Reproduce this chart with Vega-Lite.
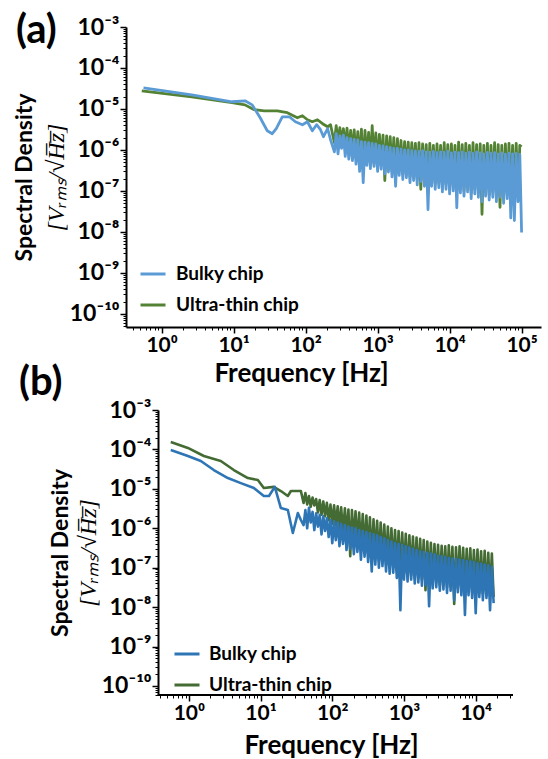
{
  "$schema": "https://vega.github.io/schema/vega-lite/v6.json",
  "background": "white",
  "padding": {"left": 13, "top": 11, "right": 5, "bottom": 0},
  "config": {
    "view": {"stroke": null},
    "axis": {"grid": false, "labelFont": "Lato", "titleFont": "Lato", "labelColor": "black", "titleColor": "black", "tickColor": "black", "domainColor": "black"},
    "line": {"strokeJoin": "round", "strokeCap": "butt"}
  },
  "columns": 1,
  "spacing": -23,
  "resolve": {"scale": {"color": "independent"}, "legend": {"color": "independent"}},
  "datasets": {
    "aBulky": [
      {"f":0.56,"v":3.28e-5},{"f":2.62,"v":2.21e-5},{"f":9.5,"v":1.5e-5},{"f":14.4,"v":1.58e-5},{"f":18.1,"v":1.26e-5},{"f":23.4,"v":6.1e-6},{"f":29.3,"v":2.95e-6},{"f":34.4,"v":2.49e-6},{"f":39.1,"v":3.3e-6},{"f":47.4,"v":6.45e-6},{"f":59.4,"v":6.45e-6},{"f":72.1,"v":4.89e-6},{"f":90.2,"v":4.13e-6},{"f":106,"v":4.89e-6},{"f":124,"v":2.95e-6},{"f":142,"v":4.13e-6},{"f":161,"v":3.12e-6},{"f":177,"v":2.11e-6},{"f":202,"v":3.3e-6},{"f":222,"v":1.78e-6},
      {"f":251,"v":9.0e-7},{"f":266,"v":2.5e-6},{"f":282,"v":8.0e-7},{"f":299,"v":2.2e-6},{"f":316,"v":1.1e-6},{"f":335,"v":2.3e-6},{"f":355,"v":7.0e-7},{"f":376,"v":2.0e-6},{"f":398,"v":6.0e-7},{"f":422,"v":1.9e-6},
      {"f":447,"v":5.5e-7},{"f":473,"v":1.8e-6},{"f":501,"v":4.5e-7},{"f":531,"v":1.75e-6},{"f":562,"v":3.0e-7},{"f":596,"v":1.6e-6},{"f":631,"v":1.6e-7},{"f":668,"v":1.55e-6},{"f":708,"v":4.2e-7},{"f":750,"v":1.5e-6},
      {"f":794,"v":3.5e-7},{"f":841,"v":1.45e-6},{"f":891,"v":4.0e-7},{"f":944,"v":1.4e-6},{"f":1000,"v":3.0e-7},{"f":1059,"v":1.3e-6},{"f":1122,"v":3.4e-7},{"f":1189,"v":1.25e-6},{"f":1259,"v":2.6e-7},{"f":1334,"v":1.2e-6},
      {"f":1413,"v":2.9e-7},{"f":1496,"v":1.15e-6},{"f":1585,"v":2.2e-7},{"f":1679,"v":1.1e-6},{"f":1778,"v":1.3e-7},{"f":1884,"v":1.1e-6},{"f":1995,"v":2.4e-7},{"f":2113,"v":1.05e-6},{"f":2239,"v":1.9e-7},{"f":2371,"v":1.0e-6},
      {"f":2512,"v":2.1e-7},{"f":2661,"v":1.0e-6},{"f":2818,"v":1.6e-7},{"f":2985,"v":9.6e-7},{"f":3162,"v":1.8e-7},{"f":3350,"v":9.5e-7},{"f":3548,"v":1.4e-7},{"f":3758,"v":9.2e-7},{"f":3981,"v":1.7e-7},{"f":4217,"v":9.6e-7},
      {"f":4467,"v":1.3e-7},{"f":4732,"v":9.0e-7},{"f":5012,"v":3.5e-8},{"f":5309,"v":8.8e-7},{"f":5623,"v":1.3e-7},{"f":5957,"v":9.2e-7},{"f":6310,"v":1.1e-7},{"f":6683,"v":8.6e-7},{"f":7079,"v":1.2e-7},{"f":7499,"v":9.0e-7},
      {"f":7943,"v":9.5e-8},{"f":8414,"v":8.8e-7},{"f":8913,"v":1.1e-7},{"f":9441,"v":9.3e-7},{"f":10000,"v":8.5e-8},{"f":10593,"v":8.5e-7},{"f":11220,"v":1.0e-7},{"f":11885,"v":8.8e-7},{"f":12589,"v":3.9e-8},{"f":13335,"v":8.6e-7},
      {"f":14125,"v":9.0e-8},{"f":14962,"v":9.0e-7},{"f":15849,"v":7.5e-8},{"f":16788,"v":8.4e-7},{"f":17783,"v":9.5e-8},{"f":18836,"v":8.8e-7},{"f":19953,"v":6.5e-8},{"f":21135,"v":8.3e-7},{"f":22387,"v":8.5e-8},{"f":23714,"v":9.0e-7},
      {"f":25119,"v":7.0e-8},{"f":26607,"v":8.5e-7},{"f":28184,"v":5.5e-8},{"f":29854,"v":8.0e-7},{"f":31623,"v":7.5e-8},{"f":33497,"v":8.7e-7},{"f":35481,"v":6.0e-8},{"f":37584,"v":8.2e-7},{"f":39811,"v":7.0e-8},{"f":42170,"v":8.6e-7},
      {"f":44668,"v":5.5e-8},{"f":47315,"v":8.0e-7},{"f":50119,"v":7.0e-8},{"f":53088,"v":8.5e-7},{"f":56234,"v":5.0e-8},{"f":59566,"v":7.9e-7},{"f":63096,"v":6.5e-8},{"f":66834,"v":8.4e-7},{"f":70795,"v":2.2e-8},{"f":74989,"v":8.0e-7},
      {"f":79433,"v":1.9e-8},{"f":84140,"v":8.3e-7},{"f":89125,"v":5.5e-8},{"f":94406,"v":7.8e-7},{"f":100000,"v":9.7e-9}
    ],
    "aThin": [
      {"f":0.53,"v":2.77e-5},{"f":2.62,"v":1.98e-5},{"f":9.5,"v":1.42e-5},{"f":14.4,"v":1.26e-5},{"f":19.3,"v":9.6e-6},{"f":26.6,"v":9.0e-6},{"f":40.4,"v":9.0e-6},{"f":55.7,"v":8.1e-6},{"f":76.8,"v":6.1e-6},{"f":90.2,"v":6.84e-6},{"f":106,"v":5.46e-6},{"f":124,"v":4.89e-6},{"f":146,"v":5.46e-6},{"f":172,"v":4.37e-6},{"f":202,"v":3.69e-6},{"f":222,"v":4.13e-6},
      {"f":251,"v":1.5e-6},{"f":266,"v":3.9e-6},{"f":282,"v":1.6e-6},{"f":299,"v":3.5e-6},{"f":316,"v":1.5e-6},{"f":335,"v":3.3e-6},{"f":355,"v":1.1e-6},{"f":376,"v":3.4e-6},{"f":398,"v":9.0e-7},{"f":422,"v":3.0e-6},
      {"f":447,"v":8.0e-7},{"f":473,"v":3.1e-6},{"f":501,"v":6.5e-7},{"f":531,"v":2.8e-6},{"f":562,"v":5.0e-7},{"f":596,"v":3.2e-6},{"f":631,"v":3.0e-7},{"f":668,"v":3.0e-6},{"f":708,"v":5.5e-7},{"f":750,"v":2.7e-6},
      {"f":794,"v":4.5e-7},{"f":841,"v":3.9e-6},{"f":891,"v":5.0e-7},{"f":944,"v":2.6e-6},{"f":1000,"v":4.0e-7},{"f":1059,"v":2.4e-6},{"f":1122,"v":4.5e-7},{"f":1189,"v":2.3e-6},{"f":1259,"v":1.8e-7},{"f":1334,"v":2.2e-6},
      {"f":1413,"v":3.8e-7},{"f":1496,"v":2.1e-6},{"f":1585,"v":3.0e-7},{"f":1679,"v":2.0e-6},{"f":1778,"v":2.2e-7},{"f":1884,"v":1.9e-6},{"f":1995,"v":3.2e-7},{"f":2113,"v":1.7e-6},{"f":2239,"v":2.6e-7},{"f":2371,"v":1.6e-6},
      {"f":2512,"v":2.8e-7},{"f":2661,"v":1.55e-6},{"f":2818,"v":2.2e-7},{"f":2985,"v":1.5e-6},{"f":3162,"v":2.5e-7},{"f":3350,"v":1.45e-6},{"f":3548,"v":1.9e-7},{"f":3758,"v":1.5e-6},{"f":3981,"v":1.1e-7},{"f":4217,"v":1.4e-6},
      {"f":4467,"v":1.8e-7},{"f":4732,"v":1.35e-6},{"f":5012,"v":9.0e-8},{"f":5309,"v":1.45e-6},{"f":5623,"v":1.8e-7},{"f":5957,"v":1.3e-6},{"f":6310,"v":1.5e-7},{"f":6683,"v":1.4e-6},{"f":7079,"v":1.6e-7},{"f":7499,"v":1.3e-6},
      {"f":7943,"v":1.3e-7},{"f":8414,"v":1.5e-6},{"f":8913,"v":1.5e-7},{"f":9441,"v":1.35e-6},{"f":10000,"v":1.2e-7},{"f":10593,"v":1.4e-6},{"f":11220,"v":1.4e-7},{"f":11885,"v":1.3e-6},{"f":12589,"v":1.0e-7},{"f":13335,"v":1.55e-6},
      {"f":14125,"v":1.2e-7},{"f":14962,"v":1.35e-6},{"f":15849,"v":1.0e-7},{"f":16788,"v":1.45e-6},{"f":17783,"v":1.3e-7},{"f":18836,"v":1.3e-6},{"f":19953,"v":9.0e-8},{"f":21135,"v":1.5e-6},{"f":22387,"v":1.1e-7},{"f":23714,"v":1.35e-6},
      {"f":25119,"v":9.5e-8},{"f":26607,"v":1.4e-6},{"f":28184,"v":2.7e-8},{"f":29854,"v":1.3e-6},{"f":31623,"v":1.0e-7},{"f":33497,"v":1.45e-6},{"f":35481,"v":8.0e-8},{"f":37584,"v":1.3e-6},{"f":39811,"v":9.5e-8},{"f":42170,"v":1.5e-6},
      {"f":44668,"v":7.5e-8},{"f":47315,"v":1.35e-6},{"f":50119,"v":4.0e-8},{"f":53088,"v":1.3e-6},{"f":56234,"v":7.0e-8},{"f":59566,"v":1.4e-6},{"f":63096,"v":8.5e-8},{"f":66834,"v":1.45e-6},{"f":70795,"v":6.0e-8},{"f":74989,"v":1.3e-6},
      {"f":79433,"v":7.0e-8},{"f":84140,"v":1.45e-6},{"f":89125,"v":7.5e-8},{"f":94406,"v":1.3e-6},{"f":100000,"v":1.2e-6}
    ],
    "bBulky": [
      {"f":0.56,"v":9.67e-5},{"f":0.97,"v":6.8e-5},{"f":1.47,"v":5.08e-5},{"f":2.23,"v":3.0e-5},{"f":3.5,"v":1.88e-5},{"f":5.31,"v":1.4e-5},{"f":8.07,"v":1.05e-5},{"f":11.1,"v":6.6e-6},{"f":13.1,"v":6.6e-6},{"f":15.8,"v":1.12e-5},{"f":19.2,"v":3.26e-6},{"f":24.0,"v":2.9e-6},{"f":28.2,"v":7.6e-7},{"f":33.1,"v":2.43e-6},{"f":36.5,"v":1.62e-6},
      {"f":39.8,"v":1.2e-6},{"f":42.2,"v":2.9e-6},{"f":44.7,"v":1.0e-6},{"f":47.3,"v":3.3e-6},{"f":50.1,"v":1.4e-6},{"f":53.1,"v":2.6e-6},{"f":56.2,"v":9.0e-7},{"f":59.6,"v":2.4e-6},{"f":63.1,"v":1.1e-6},{"f":66.8,"v":2.2e-6},
      {"f":70.8,"v":7.0e-7},{"f":75.0,"v":2.0e-6},{"f":79.4,"v":8.5e-7},{"f":84.1,"v":1.8e-6},{"f":89.1,"v":6.0e-7},{"f":94.4,"v":1.6e-6},{"f":100,"v":4.2e-7},{"f":106,"v":1.5e-6},{"f":112,"v":5.0e-7},{"f":119,"v":1.4e-6},
      {"f":126,"v":3.5e-7},{"f":133,"v":1.3e-6},{"f":141,"v":4.0e-7},{"f":150,"v":1.2e-6},{"f":158,"v":2.8e-7},{"f":168,"v":1.1e-6},{"f":178,"v":3.0e-7},{"f":188,"v":1.05e-6},{"f":200,"v":2.2e-7},{"f":211,"v":1.0e-6},
      {"f":224,"v":2.5e-7},{"f":237,"v":9.0e-7},{"f":251,"v":1.6e-7},{"f":266,"v":8.5e-7},{"f":282,"v":1.9e-7},{"f":299,"v":8.0e-7},{"f":316,"v":1.4e-7},{"f":335,"v":7.5e-7},{"f":355,"v":8.0e-8},{"f":376,"v":7.0e-7},
      {"f":398,"v":1.2e-7},{"f":422,"v":6.6e-7},{"f":447,"v":1.0e-7},{"f":473,"v":6.0e-7},{"f":501,"v":1.1e-7},{"f":531,"v":5.6e-7},{"f":562,"v":8.0e-8},{"f":596,"v":5.0e-7},{"f":631,"v":7.0e-8},{"f":668,"v":4.6e-7},
      {"f":708,"v":7.5e-8},{"f":750,"v":4.2e-7},{"f":794,"v":5.5e-8},{"f":841,"v":4.0e-7},{"f":891,"v":8.4e-9},{"f":944,"v":3.8e-7},{"f":1000,"v":5.0e-8},{"f":1059,"v":3.5e-7},{"f":1122,"v":4.5e-8},{"f":1189,"v":3.3e-7},
      {"f":1259,"v":5.0e-8},{"f":1334,"v":3.0e-7},{"f":1413,"v":4.0e-8},{"f":1496,"v":2.8e-7},{"f":1585,"v":4.2e-8},{"f":1679,"v":2.6e-7},{"f":1778,"v":3.5e-8},{"f":1884,"v":2.5e-7},{"f":1995,"v":3.6e-8},{"f":2113,"v":2.4e-7},
      {"f":2239,"v":1.06e-8},{"f":2371,"v":2.3e-7},{"f":2512,"v":3.0e-8},{"f":2661,"v":2.2e-7},{"f":2818,"v":3.2e-8},{"f":2985,"v":2.0e-7},{"f":3162,"v":2.6e-8},{"f":3350,"v":1.95e-7},{"f":3548,"v":2.8e-8},{"f":3758,"v":1.85e-7},
      {"f":3981,"v":2.3e-8},{"f":4217,"v":1.75e-7},{"f":4467,"v":2.6e-8},{"f":4732,"v":1.7e-7},{"f":5012,"v":1.5e-8},{"f":5309,"v":1.65e-7},{"f":5623,"v":2.4e-8},{"f":5957,"v":1.6e-7},{"f":6310,"v":2.0e-8},{"f":6683,"v":1.55e-7},
      {"f":7079,"v":6.3e-9},{"f":7499,"v":1.5e-7},{"f":7943,"v":2.0e-8},{"f":8414,"v":1.45e-7},{"f":8913,"v":1.7e-8},{"f":9441,"v":1.4e-7},{"f":10000,"v":7.0e-9},{"f":10593,"v":1.3e-7},{"f":11220,"v":1.8e-8},{"f":11885,"v":1.25e-7},
      {"f":12589,"v":1.5e-8},{"f":13335,"v":1.2e-7},{"f":14125,"v":1.7e-8},{"f":14962,"v":1.15e-7},{"f":15849,"v":8.4e-9},{"f":16788,"v":1.05e-7},{"f":17783,"v":1.26e-8}
    ],
    "bThin": [
      {"f":0.56,"v":1.54e-4},{"f":0.97,"v":1.09e-4},{"f":1.62,"v":6.8e-5},{"f":2.79,"v":5.08e-5},{"f":4.24,"v":3.0e-5},{"f":6.65,"v":1.88e-5},{"f":9.17,"v":1.67e-5},{"f":11.1,"v":1.05e-5},{"f":15.3,"v":1.12e-5},{"f":19.2,"v":8.8e-6},{"f":24.0,"v":6.6e-6},{"f":26.5,"v":8.8e-6},{"f":36.5,"v":8.8e-6},
      {"f":39.8,"v":4.4e-6},{"f":42.2,"v":7.8e-6},{"f":44.7,"v":4.0e-6},{"f":47.3,"v":6.6e-6},{"f":50.1,"v":3.5e-6},{"f":53.1,"v":6.0e-6},{"f":56.2,"v":3.8e-6},{"f":59.6,"v":5.5e-6},{"f":63.1,"v":2.5e-6},{"f":66.8,"v":5.2e-6},
      {"f":70.8,"v":2.2e-6},{"f":75.0,"v":4.8e-6},{"f":79.4,"v":2.0e-6},{"f":84.1,"v":4.4e-6},{"f":89.1,"v":1.6e-6},{"f":94.4,"v":4.0e-6},{"f":100,"v":1.3e-6},{"f":106,"v":3.8e-6},{"f":112,"v":1.2e-6},{"f":119,"v":3.6e-6},
      {"f":126,"v":9.0e-7},{"f":133,"v":3.4e-6},{"f":141,"v":8.0e-7},{"f":150,"v":3.2e-6},{"f":158,"v":6.0e-7},{"f":168,"v":3.0e-6},{"f":178,"v":1.97e-7},{"f":188,"v":2.9e-6},{"f":200,"v":4.5e-7},{"f":211,"v":2.7e-6},
      {"f":224,"v":4.0e-7},{"f":237,"v":2.5e-6},{"f":251,"v":3.0e-7},{"f":266,"v":2.3e-6},{"f":282,"v":2.8e-7},{"f":299,"v":2.1e-6},{"f":316,"v":2.2e-7},{"f":335,"v":1.9e-6},{"f":355,"v":1.5e-7},{"f":376,"v":1.7e-6},
      {"f":398,"v":1.8e-7},{"f":422,"v":1.55e-6},{"f":447,"v":1.5e-7},{"f":473,"v":1.4e-6},{"f":501,"v":1.5e-7},{"f":531,"v":1.25e-6},{"f":562,"v":1.2e-7},{"f":596,"v":1.1e-6},{"f":631,"v":1.0e-7},{"f":668,"v":1.0e-6},
      {"f":708,"v":1.0e-7},{"f":750,"v":9.0e-7},{"f":794,"v":8.0e-8},{"f":841,"v":8.5e-7},{"f":891,"v":7.0e-8},{"f":944,"v":7.8e-7},{"f":1000,"v":7.0e-8},{"f":1059,"v":7.2e-7},{"f":1122,"v":6.5e-8},{"f":1189,"v":6.6e-7},
      {"f":1259,"v":6.5e-8},{"f":1334,"v":6.2e-7},{"f":1413,"v":5.5e-8},{"f":1496,"v":5.8e-7},{"f":1585,"v":5.5e-8},{"f":1679,"v":5.4e-7},{"f":1778,"v":5.0e-8},{"f":1884,"v":5.0e-7},{"f":1995,"v":2.7e-8},{"f":2113,"v":4.6e-7},
      {"f":2239,"v":4.5e-8},{"f":2371,"v":4.3e-7},{"f":2512,"v":4.0e-8},{"f":2661,"v":4.0e-7},{"f":2818,"v":4.2e-8},{"f":2985,"v":3.8e-7},{"f":3162,"v":3.6e-8},{"f":3350,"v":3.6e-7},{"f":3548,"v":3.8e-8},{"f":3758,"v":3.5e-7},
      {"f":3981,"v":3.2e-8},{"f":4217,"v":3.7e-7},{"f":4467,"v":3.4e-8},{"f":4732,"v":3.4e-7},{"f":5012,"v":1.2e-8},{"f":5309,"v":3.3e-7},{"f":5623,"v":3.0e-8},{"f":5957,"v":3.5e-7},{"f":6310,"v":2.8e-8},{"f":6683,"v":3.2e-7},
      {"f":7079,"v":2.6e-8},{"f":7499,"v":3.0e-7},{"f":7943,"v":2.7e-8},{"f":8414,"v":3.1e-7},{"f":8913,"v":2.4e-8},{"f":9441,"v":2.8e-7},{"f":10000,"v":2.5e-8},{"f":10593,"v":2.9e-7},{"f":11220,"v":2.3e-8},{"f":11885,"v":2.6e-7},
      {"f":12589,"v":2.2e-8},{"f":13335,"v":2.7e-7},{"f":14125,"v":2.0e-8},{"f":14962,"v":2.4e-7},{"f":15849,"v":1.9e-8},{"f":16788,"v":2.3e-7},{"f":17783,"v":1.8e-8}
    ]
  },
  "concat": [
    {
      "width": 415,
      "height": 300,
      "title": {"text": "(a)", "anchor": "start", "frame": "group", "orient": "top", "baseline": "alphabetic", "offset": 0, "dx": -110, "dy": 67, "font": "Lato", "fontSize": 40, "fontWeight": "bold", "color": "black"},
      "layer": [
        {
          "data": {"name": "aThin"},
          "mark": {"type": "line", "strokeWidth": 2.8},
          "encoding": {
            "x": {"field": "f", "type": "quantitative", "scale": {"type": "log", "domain": [0.32, 186000]},
              "axis": {"orient": "bottom", "values": [1, 10, 100, 1000, 10000, 100000], "labelExpr": "'10' + '⁰¹²³⁴⁵⁶⁷⁸⁹'[round(log(datum.value)/LN10)]", "labelFontSize": 21, "labelFontWeight": "bold", "labelPadding": 1, "labelOverlap": false, "labelFlush": false, "tickSize": 6, "tickWidth": 1.5, "domainWidth": 2, "title": "Frequency [Hz]", "titleFontSize": 26, "titleFontWeight": "bold", "titlePadding": 5, "titleX": 175}},
            "y": {"field": "v", "type": "quantitative", "scale": {"type": "log", "domain": [4.8e-11, 1e-3]},
              "axis": {"orient": "left", "values": [1e-10, 1e-9, 1e-8, 1e-7, 1e-6, 1e-5, 1e-4, 1e-3], "labelExpr": "'10⁻' + (round(-log(datum.value)/LN10) == 10 ? '¹⁰' : '⁰¹²³⁴⁵⁶⁷⁸⁹'[round(-log(datum.value)/LN10)])", "labelFontSize": 23, "labelFontWeight": "bold", "labelPadding": 1, "labelOverlap": false, "tickSize": 6, "tickWidth": 1.5, "domainWidth": 2, "title": "[Vᵣₘₛ/√H̅z̅]", "titleFont": "Liberation Serif", "titleFontStyle": "italic", "titleFontWeight": "normal", "titleFontSize": 24, "titlePadding": 1}},
            "color": {"datum": "Ultra-thin chip", "type": "nominal",
              "scale": {"domain": ["Bulky chip", "Ultra-thin chip"], "range": ["#5b9bd5", "#548235"]},
              "legend": {"orient": "none", "legendX": 13, "legendY": 233, "title": null, "padding": 0, "symbolType": "stroke", "symbolSize": 625, "symbolStrokeWidth": 3, "labelFont": "Lato", "labelFontSize": 19, "labelFontWeight": "bold", "labelColor": "black", "labelOffset": 9, "rowPadding": 7}}
          }
        },
        {
          "data": {"name": "aBulky"},
          "mark": {"type": "line", "strokeWidth": 2.8},
          "encoding": {
            "x": {"field": "f", "type": "quantitative", "scale": {"type": "log", "domain": [0.32, 186000]},
              "axis": {"orient": "bottom", "values": [0.4, 0.5, 0.6, 0.7, 0.8, 0.9, 2, 3, 4, 5, 6, 7, 8, 9, 20, 30, 40, 50, 60, 70, 80, 90, 200, 300, 400, 500, 600, 700, 800, 900, 2000, 3000, 4000, 5000, 6000, 7000, 8000, 9000, 20000, 30000, 40000, 50000, 60000, 70000, 80000, 90000], "labels": false, "domain": false, "tickSize": 3, "tickWidth": 1, "title": null}},
            "y": {"field": "v", "type": "quantitative", "scale": {"type": "log", "domain": [4.8e-11, 1e-3]},
              "axis": {"orient": "left", "values": [5e-11, 6e-11, 7e-11, 8e-11, 9e-11, 2e-10, 3e-10, 4e-10, 5e-10, 6e-10, 7e-10, 8e-10, 9e-10, 2e-9, 3e-9, 4e-9, 5e-9, 6e-9, 7e-9, 8e-9, 9e-9, 2e-8, 3e-8, 4e-8, 5e-8, 6e-8, 7e-8, 8e-8, 9e-8, 2e-7, 3e-7, 4e-7, 5e-7, 6e-7, 7e-7, 8e-7, 9e-7, 2e-6, 3e-6, 4e-6, 5e-6, 6e-6, 7e-6, 8e-6, 9e-6, 2e-5, 3e-5, 4e-5, 5e-5, 6e-5, 7e-5, 8e-5, 9e-5, 2e-4, 3e-4, 4e-4, 5e-4, 6e-4, 7e-4, 8e-4, 9e-4], "labels": false, "domain": false, "tickSize": 3, "tickWidth": 1, "title": "Spectral Density", "titleFontSize": 23, "titleFontWeight": "bold", "titlePadding": 86}},
            "color": {"datum": "Bulky chip", "type": "nominal", "scale": {"domain": ["Bulky chip", "Ultra-thin chip"], "range": ["#5b9bd5", "#548235"]}}
          }
        }
      ],
      "resolve": {"axis": {"x": "independent", "y": "independent"}}
    },
    {
      "width": 387,
      "height": 285,
      "title": {"text": "(b)", "anchor": "start", "frame": "group", "orient": "top", "baseline": "alphabetic", "offset": 0, "dx": -107, "dy": 36, "font": "Lato", "fontSize": 40, "fontWeight": "bold", "color": "black"},
      "layer": [
        {
          "data": {"name": "bThin"},
          "mark": {"type": "line", "strokeWidth": 2.6},
          "encoding": {
            "x": {"field": "f", "type": "quantitative", "scale": {"type": "log", "domain": [0.133, 33113]},
              "axis": {"orient": "bottom", "values": [1, 10, 100, 1000, 10000], "labelExpr": "'10' + '⁰¹²³⁴⁵⁶⁷⁸⁹'[round(log(datum.value)/LN10)]", "labelFontSize": 21, "labelFontWeight": "bold", "labelPadding": 1, "labelOverlap": false, "labelFlush": false, "domain": false, "tickSize": 6, "tickWidth": 1.5, "title": "Frequency [Hz]", "titleFontSize": 26, "titleFontWeight": "bold", "titlePadding": 9, "titleX": 205}},
            "y": {"field": "v", "type": "quantitative", "scale": {"type": "log", "domain": [5.9e-11, 1e-3]},
              "axis": {"orient": "left", "offset": -32, "values": [1e-10, 1e-9, 1e-8, 1e-7, 1e-6, 1e-5, 1e-4, 1e-3], "labelExpr": "'10⁻' + (round(-log(datum.value)/LN10) == 10 ? '¹⁰' : '⁰¹²³⁴⁵⁶⁷⁸⁹'[round(-log(datum.value)/LN10)])", "labelFontSize": 23, "labelFontWeight": "bold", "labelPadding": 1, "labelOverlap": false, "tickSize": 6, "tickWidth": 1.5, "domainWidth": 2, "title": "[Vᵣₘₛ/√H̅z̅]", "titleFont": "Liberation Serif", "titleFontStyle": "italic", "titleFontWeight": "normal", "titleFontSize": 24, "titlePadding": 1}},
            "color": {"datum": "Ultra-thin chip", "type": "nominal",
              "scale": {"domain": ["Bulky chip", "Ultra-thin chip"], "range": ["#2e75b6", "#436b33"]},
              "legend": {"orient": "none", "legendX": 47, "legendY": 230, "title": null, "padding": 0, "symbolType": "stroke", "symbolSize": 625, "symbolStrokeWidth": 3, "labelFont": "Lato", "labelFontSize": 19, "labelFontWeight": "bold", "labelColor": "black", "labelOffset": 8, "rowPadding": 7}}
          }
        },
        {
          "data": {"name": "bBulky"},
          "mark": {"type": "line", "strokeWidth": 2.6},
          "encoding": {
            "x": {"field": "f", "type": "quantitative", "scale": {"type": "log", "domain": [0.133, 33113]},
              "axis": {"orient": "bottom", "values": [0.4, 0.5, 0.6, 0.7, 0.8, 0.9, 2, 3, 4, 5, 6, 7, 8, 9, 20, 30, 40, 50, 60, 70, 80, 90, 200, 300, 400, 500, 600, 700, 800, 900, 2000, 3000, 4000, 5000, 6000, 7000, 8000, 9000, 20000, 30000], "labels": false, "domain": false, "tickSize": 3, "tickWidth": 1, "title": null}},
            "y": {"field": "v", "type": "quantitative", "scale": {"type": "log", "domain": [5.9e-11, 1e-3]},
              "axis": {"orient": "left", "offset": -32, "values": [6e-11, 7e-11, 8e-11, 9e-11, 2e-10, 3e-10, 4e-10, 5e-10, 6e-10, 7e-10, 8e-10, 9e-10, 2e-9, 3e-9, 4e-9, 5e-9, 6e-9, 7e-9, 8e-9, 9e-9, 2e-8, 3e-8, 4e-8, 5e-8, 6e-8, 7e-8, 8e-8, 9e-8, 2e-7, 3e-7, 4e-7, 5e-7, 6e-7, 7e-7, 8e-7, 9e-7, 2e-6, 3e-6, 4e-6, 5e-6, 6e-6, 7e-6, 8e-6, 9e-6, 2e-5, 3e-5, 4e-5, 5e-5, 6e-5, 7e-5, 8e-5, 9e-5, 2e-4, 3e-4, 4e-4, 5e-4, 6e-4, 7e-4, 8e-4, 9e-4], "labels": false, "domain": false, "tickSize": 3, "tickWidth": 1, "title": "Spectral Density", "titleFontSize": 23, "titleFontWeight": "bold", "titlePadding": 82}},
            "color": {"datum": "Bulky chip", "type": "nominal", "scale": {"domain": ["Bulky chip", "Ultra-thin chip"], "range": ["#2e75b6", "#436b33"]}}
          }
        },
        {
          "data": {"values": [{"f": 0.37, "f2": 33113, "v": 5.9e-11}]},
          "mark": {"type": "rule", "strokeWidth": 2, "color": "black"},
          "encoding": {
            "x": {"field": "f", "type": "quantitative", "scale": {"type": "log", "domain": [0.133, 33113]}, "axis": null},
            "x2": {"field": "f2"},
            "y": {"field": "v", "type": "quantitative", "scale": {"type": "log", "domain": [5.9e-11, 1e-3]}, "axis": null}
          }
        }
      ],
      "resolve": {"axis": {"x": "independent", "y": "independent"}}
    }
  ]
}
